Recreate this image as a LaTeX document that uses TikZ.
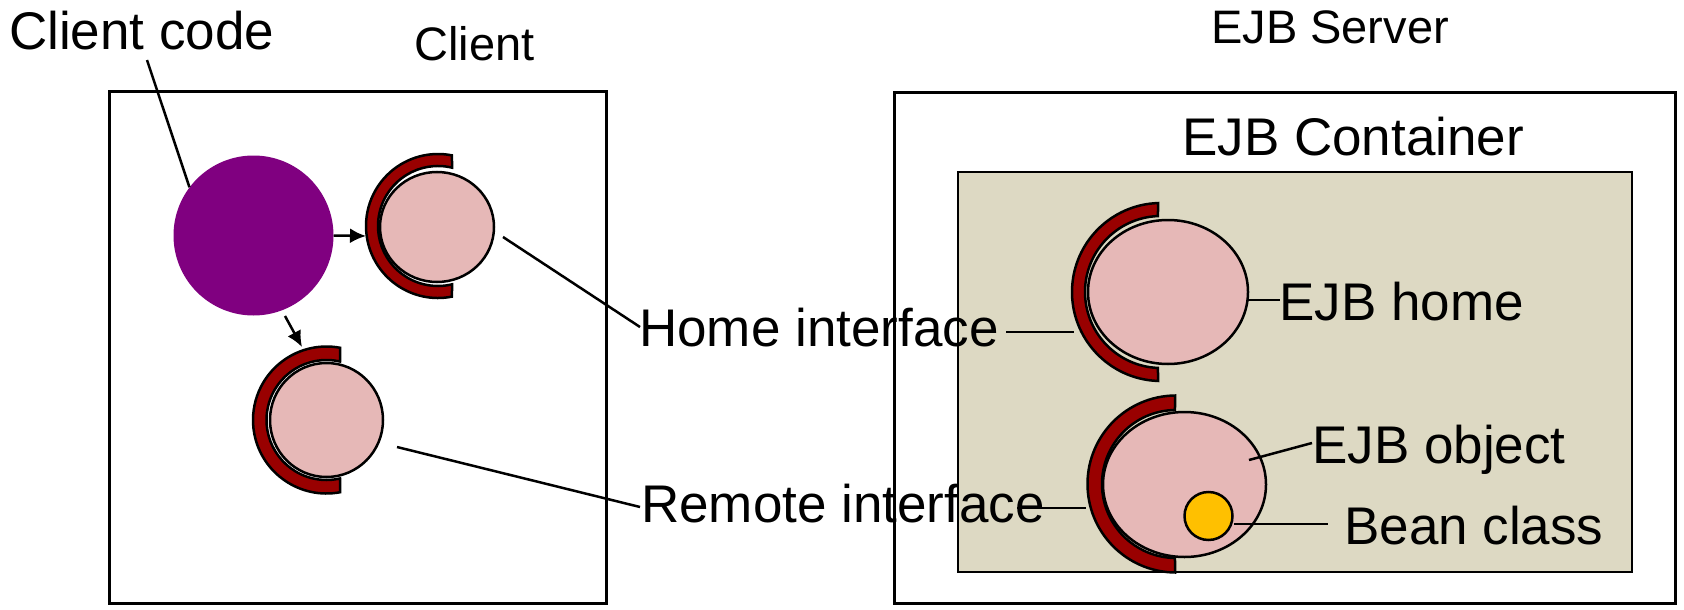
\documentclass[tikz,border=0pt]{standalone}
\usepackage{fontspec}
\setmainfont{Liberation Sans}
\usetikzlibrary{shapes.geometric,arrows.meta}
\definecolor{crescred}{RGB}{153,0,0}
\definecolor{pinkfill}{RGB}{230,184,183}
\definecolor{purp}{RGB}{128,0,128}
\definecolor{beige}{RGB}{221,217,195}
\definecolor{gold}{RGB}{255,192,0}
\newcommand\drawcres[6]{%
  \begin{scope}[shift={(#1,#2)}]
    \draw[cresc] (#5:#3) arc[start angle=#5, end angle={360-#5}, radius=#3]
      -- ({360-#6}:#4) arc[start angle={360-#6}, end angle=#6, radius=#4] -- cycle;
  \end{scope}}
\begin{document}
\begin{tikzpicture}[x=1pt,y=-1pt,
  boxnode/.style={draw=black, line width=3pt, inner sep=0pt, rectangle},
  lab/.style={inner sep=0pt, font=\fontsize{53}{60}\selectfont, anchor=base west},
  smalllab/.style={inner sep=0pt, font=\fontsize{47}{54}\selectfont, anchor=base west},
  cresc/.style={draw=black, line width=2.5pt, fill=crescred},
  pinkshape/.style={ellipse, draw=black, line width=2.5pt, fill=pinkfill, inner sep=0pt},
  conn/.style={draw=black, line width=2.5pt},
  arr/.style={draw=black, line width=2.5pt, -{Latex[length=16pt,width=15pt]}}]
\useasboundingbox (0,0) rectangle (1684,610);
\fill[white] (0,0) rectangle (1684,610);

% boxes
\node[boxnode, minimum width=497pt, minimum height=512pt] (clientbox) at (357.5,347) {};
\node[boxnode, fill=white, minimum width=781pt, minimum height=511pt] (serverbox) at (1284.5,347.5) {};
\node[boxnode, line width=2.5pt, fill=beige, minimum width=674pt, minimum height=400pt] (container) at (1295,372) {};

% client side shapes
\node[circle, fill=purp, minimum size=160pt, inner sep=0pt] (cc) at (253.5,235.5) {};
\drawcres{438}{226}{72}{60}{78.8}{76.5}
\node[pinkshape, minimum width=114pt, minimum height=110pt] (chome) at (437,227) {};
\drawcres{326.5}{420}{73.5}{60}{79.4}{77}
\node[pinkshape, minimum width=113pt, minimum height=114pt] (cremote) at (326.5,420) {};

% server side shapes
\drawcres{1161}{292}{89}{76}{91.9}{92.3}
\node[pinkshape, minimum width=160pt, minimum height=144pt] (shome) at (1168,292) {};
\drawcres{1176}{484}{88.5}{74}{90.6}{90.8}
\node[pinkshape, minimum width=163pt, minimum height=145pt] (sobj) at (1184.5,484.5) {};
\node[circle, draw=black, line width=2.5pt, fill=gold, minimum size=48pt, inner sep=0pt] (bean) at (1208.5,516) {};

% labels
\node[lab] (tcc) at (9,50) {Client code};
\node[smalllab] (tclient) at (414,60) {Client};
\node[smalllab] (tserver) at (1211,44) {EJB Server};
\node[lab] (tcont) at (1182,155) {EJB Container};
\node[lab] (thi) at (639,346) {Home interface};
\node[lab] (tri) at (641,522) {Remote interface};
\node[lab] (tehome) at (1279,320) {EJB home};
\node[lab] (teobj) at (1312,463) {EJB object};
\node[lab] (tbean) at (1344,544) {Bean class};

% free connector ends
\coordinate (ccA) at (147,60);
\coordinate (chtip) at (366,236);
\coordinate (crA) at (285,316);
\coordinate (crtip) at (302,347);
\coordinate (hiA) at (503,237);
\coordinate (hiB) at (640,327);
\coordinate (riA) at (397,447);
\coordinate (riB) at (640,507);
\coordinate (hsA) at (1006,332);
\coordinate (hsB) at (1074,332);
\coordinate (rsA) at (1017,508);
\coordinate (rsB) at (1086,508);
\coordinate (ehA) at (1248,300);
\coordinate (ehB) at (1280,300);
\coordinate (eoA) at (1249,460);
\coordinate (eoB) at (1312,443);
\coordinate (bcB) at (1328,524);

% connectors
\draw[conn] (ccA) -- (cc.143);
\draw[arr] (cc.east) -- (chtip);
\draw[arr] (crA) -- (crtip);
\draw[conn] (hiA) -- (hiB);
\draw[conn] (riA) -- (riB);
\draw[conn] (hsA) -- (hsB);
\draw[conn] (rsA) -- (rsB);
\draw[conn] (ehA) -- (ehB);
\draw[conn] (eoA) -- (eoB);
\draw[conn] (bean.east |- bcB) -- (bcB);
\end{tikzpicture}
\end{document}
